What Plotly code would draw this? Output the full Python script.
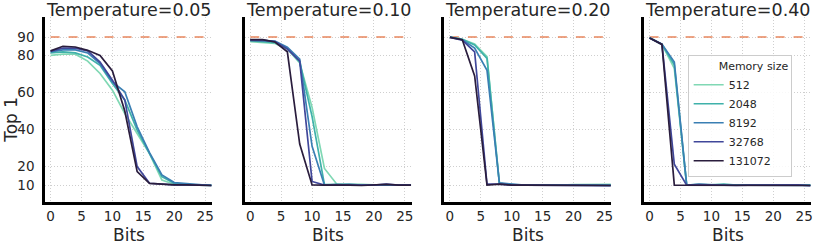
import plotly.graph_objects as go

bits = [0, 2, 4, 6, 8, 10, 12, 14, 16, 18, 20, 22, 24, 26]
temperatures = ["0.05", "0.10", "0.20", "0.40"]
memory_sizes = ["512", "2048", "8192", "32768", "131072"]
baseline = 90

t005 = {
    "512":    [80.1, 80.7, 80.7, 77.0, 70.3, 61.3, 48.7, 38.0, 27.0, 12.8, 10.5, 10.2, 10.0, 9.9],
    "2048":   [81.4, 82.0, 81.4, 79.2, 74.7, 64.9, 56.0, 39.7, 27.0, 14.6, 11.0, 10.3, 10.1, 10.0],
    "8192":   [82.0, 83.0, 83.0, 81.4, 75.6, 65.8, 60.4, 41.5, 27.5, 15.5, 11.4, 10.8, 10.4, 9.8],
    "32768":  [82.3, 84.0, 84.0, 82.5, 76.5, 66.7, 56.0, 20.0, 11.0, 10.5, 10.2, 10.1, 10.0, 9.9],
    "131072": [82.5, 85.0, 84.6, 82.8, 80.0, 71.7, 50.0, 17.3, 11.0, 10.5, 10.1, 10.2, 10.0, 9.8],
}
t010 = {
    "512":    [87.5, 87.2, 86.5, 83.5, 76.0, 52.0, 19.0, 10.5, 10.6, 10.4, 10.2, 10.0, 10.1, 10.0],
    "2048":   [88.0, 87.6, 87.0, 84.0, 76.5, 47.0, 10.3, 10.4, 10.5, 10.2, 10.0, 10.2, 10.0, 10.1],
    "8192":   [88.3, 88.0, 87.8, 84.5, 78.0, 31.0, 10.0, 10.2, 10.4, 10.0, 10.1, 10.0, 10.0, 10.2],
    "32768":  [88.2, 88.3, 87.5, 83.5, 77.0, 12.0, 10.0, 10.3, 10.0, 9.8, 10.0, 10.5, 10.0, 10.0],
    "131072": [88.6, 88.6, 87.3, 82.0, 32.2, 10.1, 10.0, 10.2, 10.0, 9.8, 10.0, 10.4, 10.0, 10.0],
}
t020 = {
    "512":    [90.0, 88.8, 86.2, 79.4, 11.0, 10.3, 10.2, 10.0, 10.1, 10.0, 10.3, 10.2, 10.4, 10.4],
    "2048":   [90.0, 88.7, 85.7, 78.5, 11.0, 10.2, 10.0, 10.1, 10.0, 10.1, 10.0, 10.2, 10.3, 10.2],
    "8192":   [90.0, 88.5, 84.0, 72.0, 11.2, 10.4, 10.0, 10.0, 9.8, 10.0, 10.2, 10.0, 10.0, 9.9],
    "32768":  [89.8, 88.3, 82.0, 10.5, 10.5, 10.0, 10.0, 10.0, 9.8, 10.0, 10.0, 10.0, 9.8, 9.7],
    "131072": [89.8, 88.5, 69.0, 10.0, 10.5, 10.0, 10.0, 10.0, 10.0, 10.0, 10.2, 10.0, 10.0, 9.8],
}
t040 = {
    "512":    [89.6, 86.0, 73.0, 10.0, 10.2, 10.3, 10.4, 10.2, 10.0, 9.8, 10.0, 10.0, 10.2, 10.1],
    "2048":   [89.6, 86.0, 75.0, 10.0, 10.4, 10.2, 10.5, 10.0, 10.0, 10.0, 10.0, 10.2, 10.2, 10.0],
    "8192":   [89.6, 86.2, 76.5, 10.0, 10.4, 10.0, 10.0, 10.0, 10.0, 10.0, 10.0, 10.0, 10.2, 9.8],
    "32768":  [89.5, 86.0, 21.3, 10.0, 10.3, 10.0, 10.0, 9.8, 10.0, 10.0, 10.0, 10.0, 10.2, 9.7],
    "131072": [89.5, 86.0, 10.0, 10.0, 10.2, 10.0, 10.0, 10.0, 10.0, 10.0, 10.0, 10.0, 10.0, 9.8],
}
panels = [t005, t010, t020, t040]

y_ticks = [10, 20, 40, 60, 80, 90]
x_ticks = [0, 5, 10, 15, 20, 25]

colors = ["#80d8b4", "#3fb1aa", "#3a7fb3", "#40479a", "#2a1d3d"]
text_color = "#262626"
font_family = "DejaVu Sans, sans-serif"

fig = go.Figure()

W = 766.0
H = 185.3
pw = 167.0
gap = (W - 4 * pw) / 3
domains = []
for i in range(4):
    s = i * (pw + gap)
    domains.append([s / W, (s + pw) / W])

for i, data in enumerate(panels):
    xa = "x" if i == 0 else f"x{i+1}"
    ya = "y" if i == 0 else f"y{i+1}"
    fig.add_trace(go.Scatter(
        x=[bits[0], bits[-1]], y=[baseline, baseline], mode="lines",
        line=dict(color="#e8875e", width=1.5, dash="dash"),
        xaxis=xa, yaxis=ya, showlegend=False, hoverinfo="skip",
    ))
    for j, m in enumerate(memory_sizes):
        fig.add_trace(go.Scatter(
            x=bits, y=data[m], mode="lines", name=m,
            line=dict(color=colors[j], width=1.7),
            xaxis=xa, yaxis=ya, showlegend=(i == 3),
        ))

axis_common = dict(
    showline=True, linecolor="black", linewidth=2.5, mirror=False,
    showgrid=True, gridcolor="#cfcfcf", gridwidth=1, griddash="1px,2px",
    zeroline=False, ticks="", automargin=False,
    tickfont=dict(size=13.5, color=text_color, family=font_family),
)

layout = dict(
    width=814, height=245,
    margin=dict(l=45, r=3, t=17, b=43, autoexpand=False),
    paper_bgcolor="white", plot_bgcolor="white",
    font=dict(family=font_family, color=text_color),
    showlegend=True,
    legend=dict(
        x=0.839, y=0.795, xanchor="left", yanchor="top",
        bgcolor="rgba(255,255,255,0.85)", bordercolor="#cccccc", borderwidth=1,
        font=dict(size=11, color=text_color, family=font_family),
        title=dict(text="        Memory size", font=dict(size=11, color=text_color)),
        itemwidth=30, tracegroupgap=0,
    ),
)

annotations = []
for i in range(4):
    xk = "xaxis" if i == 0 else f"xaxis{i+1}"
    yk = "yaxis" if i == 0 else f"yaxis{i+1}"
    layout[xk] = dict(
        axis_common, domain=domains[i], range=[-0.9, 26.1],
        tickvals=x_ticks, anchor="y" if i == 0 else f"y{i+1}",
    )
    layout[yk] = dict(
        axis_common, domain=[0, 1], range=[0.9, 100.8],
        tickvals=y_ticks, showticklabels=(i == 0), ticklabelstandoff=5,
        anchor="x" if i == 0 else f"x{i+1}",
    )
    if i > 0:
        layout[yk]["matches"] = "y"
    cx = (domains[i][0] + domains[i][1]) / 2
    annotations.append(dict(
        text=f"Temperature={temperatures[i]}", x=cx,
        y=1, xref="paper", yref="paper", xanchor="center", yanchor="bottom",
        showarrow=False, yshift=-5,
        font=dict(size=17.5, color=text_color, family=font_family),
    ))
    annotations.append(dict(
        text="Bits", x=cx, y=-(235.5 - 202.3) / H, xref="paper", yref="paper",
        xanchor="center", yanchor="middle", showarrow=False,
        font=dict(size=17, color=text_color, family=font_family),
    ))

annotations.append(dict(
    text="Top 1", x=-45 / W, y=(202.3 - 120) / H, xref="paper", yref="paper",
    xanchor="left", yanchor="middle", textangle=-90, showarrow=False, xshift=-1,
    font=dict(size=17, color=text_color, family=font_family),
))
layout["annotations"] = annotations

fig.update_layout(**layout)
fig.write_html(
    "out.html",
    config={"displayModeBar": False},
    post_script="document.body.style.margin='0';document.body.style.overflow='hidden';",
)
